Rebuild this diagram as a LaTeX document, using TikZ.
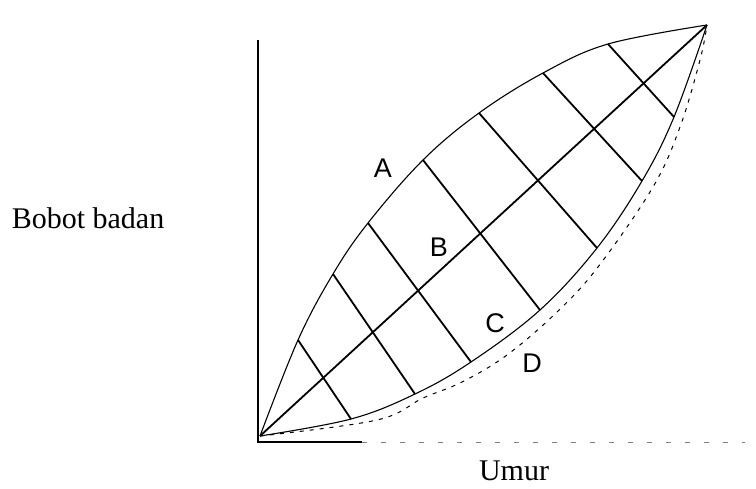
\documentclass[tikz,border=0pt]{standalone}
\usepackage{fontspec}
\setmainfont{Liberation Serif}
\setsansfont{Liberation Sans}
\usetikzlibrary{positioning}

\tikzset{
  curve/.style={line width=1.1pt},
  gridline/.style={line width=1.8pt},
  dotcurve/.style={line width=1pt,dash pattern=on 4pt off 6pt},
  letter/.style={font=\sffamily\fontsize{27}{27}\selectfont},
  axislabel/.style={font=\fontsize{30}{30}\selectfont,anchor=base,inner sep=0pt}
}

\begin{document}
\begin{tikzpicture}[x=1pt,y=-1pt]
\useasboundingbox (0,0) rectangle (756,488);

% axes
\coordinate (corner) at (258,442);
\coordinate (ytop) at (258,40);
\coordinate (xmid) at (362,442);
\coordinate (xend) at (745,442);
\draw[line width=1.3pt] (ytop) -- (corner) -- (xmid);
\draw[line width=1pt,gray,dash pattern=on 5pt off 14pt] (xmid) -- (xend);

% ends of the leaf
\coordinate (O) at (260,436);
\coordinate (T) at (707,25);

% points on curve A and curve C
\foreach \i/\x/\y in {1/298/340,2/333/274,3/368/223,4/423/160,5/479/113,6/543/73,7/608/44}
  \coordinate (a\i) at (\x,\y);
\foreach \i/\x/\y in {1/351/419,2/415/394,3/471/362,4/540/310,5/597/248,6/642/181,7/674/117}
  \coordinate (c\i) at (\x,\y);

\draw[curve] plot[smooth,tension=0.6] coordinates {(O) (a1) (a2) (a3) (a4) (a5) (a6) (a7) (T)};
\draw[curve] plot[smooth,tension=0.6] coordinates {(O) (c1) (c2) (c3) (c4) (c5) (c6) (c7) (T)};
\draw[dotcurve] plot[smooth,tension=0.6] coordinates {(O) (377,420) (423,398) (462,382) (507,355)
  (557,312) (598,267) (653,187) (680,127) (700,60) (T)};

% diagonal B and the cross lines
\draw[gridline] (O) -- (T);
\foreach \i in {1,...,7}
  \draw[gridline] (a\i) -- (c\i);

\node[letter] (labA) at (383,168) {A};
\node[letter] (labB) at (439,247) {B};
\node[letter] (labC) at (495,323) {C};
\node[letter] (labD) at (532,363) {D};

\node[axislabel] (ylab) at (88,228) {Bobot badan};
\node[axislabel] (xlab) at (514,480) {Umur};

\end{tikzpicture}
\end{document}
